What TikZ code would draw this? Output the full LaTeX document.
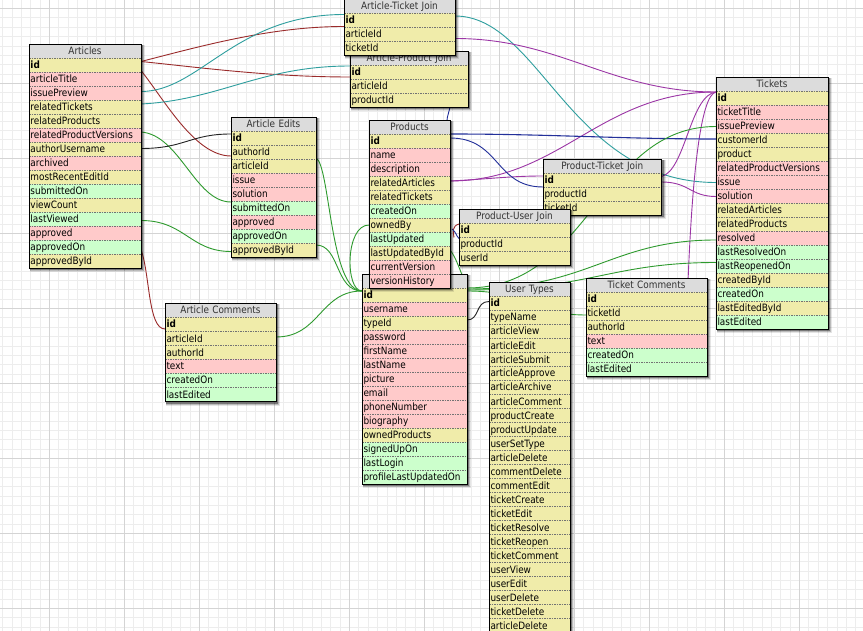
\documentclass[tikz,border=0pt]{standalone}
\usepackage{fontspec}
\setmainfont{DejaVu Sans}[FakeStretch=0.88]
\usetikzlibrary{calc}

\definecolor{ery}{HTML}{F0ECAA}
\definecolor{erp}{HTML}{FFCACA}
\definecolor{erg}{HTML}{CCFFCC}
\definecolor{ertitlebg}{HTML}{DCDCDC}
\definecolor{gridminor}{HTML}{EDEDED}
\definecolor{gridmajor}{HTML}{D4D4D4}
\definecolor{wred}{HTML}{9A2B2B}
\definecolor{wteal}{HTML}{2E9E9E}
\definecolor{wpurple}{HTML}{9B35A5}
\definecolor{wgreen}{HTML}{2E9A2E}
\definecolor{wblue}{HTML}{23309A}
\definecolor{wblack}{HTML}{222222}

\pgfdeclarelayer{gridlayer}
\pgfdeclarelayer{wires}
\pgfsetlayers{gridlayer,wires,main}

\hyphenpenalty=10000
\newcommand\erfont{\fontsize{10.1}{12}\selectfont}

% \ertable{prefix}{x}{top}{width}{number of fields}{title}{field/colour list}
\newcommand\ertable[7]{%
  \pgfmathsetmacro\erbot{#3+14*(#5+1)}%
  \pgfmathsetmacro\ertw{#4-3}%
  \fill[black,opacity=.10] (#2+1,#3+1) rectangle (#2+#4+4,\erbot+4);
  \fill[black,opacity=.18] (#2+1,#3+1) rectangle (#2+#4+3,\erbot+3);
  \fill[black,opacity=.35] (#2+1,#3+1) rectangle (#2+#4+2,\erbot+2);
  \node[ertitle, text width=\ertw pt] (#1-title) at (#2,#3) {#6};
  \foreach \fname/\fcol [count=\i] in {#7}{%
    \node[errow, fill=\fcol, text width=\ertw pt] (#1-\i) at (#2,{#3+14*\i}) {\fname};
    \draw[ersep] (#2,{#3+14*\i}) -- ++(#4,0);
  }%
  \draw[erframe] (#2,#3) rectangle (#2+#4,\erbot);
}

\begin{document}
\begin{tikzpicture}[x=1pt,y=-1pt,
  errow/.style={rectangle, anchor=north west, minimum height=14pt,
    inner xsep=1.5pt, inner ysep=0pt, outer sep=0pt,
    text height=9pt, text depth=2pt, align=left, font=\erfont, text=black},
  ertitle/.style={errow, fill=ertitlebg, align=center, text=black!80},
  ersep/.style={black!55, line width=0.6pt, dash pattern=on 1.5pt off 1pt},
  erframe/.style={black, line width=0.9pt},
  wire/.style={line width=0.9pt},
  gminor/.style={gridminor, line width=0.5pt},
  gmajor/.style={gridmajor, line width=0.6pt}]
\useasboundingbox (0,0) rectangle (863,631);
\clip (0,0) rectangle (863,631);

% background grid
\begin{pgfonlayer}{gridlayer}
  \fill[white] (0,0) rectangle (863,631);
  \foreach \k in {-6,...,87}
    \draw[gminor] ({49.3+9.375*\k},0) -- ({49.3+9.375*\k},631);
  \foreach \k in {-1,...,67}
    \draw[gminor] (0,{8.3+9.375*\k}) -- (863,{8.3+9.375*\k});
  \foreach \k in {-1,...,11}
    \draw[gmajor] ({49.3+75*\k},0) -- ({49.3+75*\k},631);
  \foreach \k in {-1,...,8}
    \draw[gmajor] (0,{8.3+75*\k}) -- (863,{8.3+75*\k});
\end{pgfonlayer}

% tables
\ertable{art}{29}{44.5}{112}{15}{Articles}{{\textbf{id}}/ery, articleTitle/erp, issuePreview/erp, relatedTickets/ery, relatedProducts/ery, relatedProductVersions/erp, authorUsername/ery, archived/erp, mostRecentEditId/ery, submittedOn/erg, viewCount/ery, lastViewed/erg, approved/erp, approvedOn/erg, approvedById/ery}

\ertable{ate}{231}{117}{85}{9}{Article Edits}{{\textbf{id}}/ery, authorId/ery, articleId/ery, issue/erp, solution/erp, submittedOn/erg, approved/erp, approvedOn/erg, approvedById/ery}

\ertable{apj}{350}{51}{118}{3}{Article-Product Join}{{\textbf{id}}/ery, articleId/ery, productId/ery}

\ertable{atj}{344}{-0.5}{111}{3}{Article-Ticket Join}{{\textbf{id}}/ery, articleId/ery, ticketId/ery}

% the users table: its title bar lies under the products table
\ertable{usr}{362}{274}{105}{14}{}{{\textbf{id}}/ery, username/erp, typeId/ery, password/erp, firstName/erp, lastName/erp, picture/erp, email/erp, phoneNumber/erp, biography/erp, ownedProducts/ery, signedUpOn/erg, lastLogin/erg, profileLastUpdatedOn/erg}

\ertable{prd}{369}{120}{81}{11}{Products}{{\textbf{id}}/ery, name/erp, description/erp, relatedArticles/ery, relatedTickets/ery, createdOn/erg, ownedBy/ery, lastUpdated/erg, lastUpdatedById/ery, currentVersion/erp, versionHistory/erp}

\ertable{ptj}{543}{159.5}{118.5}{3}{Product-Ticket Join}{{\textbf{id}}/ery, productId/ery, ticketId/ery}

\ertable{puj}{459}{209.5}{111}{3}{Product-User Join}{{\textbf{id}}/ery, productId/ery, userId/ery}

\ertable{tck}{716}{77.5}{112}{17}{Tickets}{{\textbf{id}}/ery, ticketTitle/erp, issuePreview/erp, customerId/ery, product/ery, relatedProductVersions/erp, issue/erp, solution/erp, relatedArticles/ery, relatedProducts/ery, resolved/erp, lastResolvedOn/erg, lastReopenedOn/erg, createdById/ery, createdOn/erg, lastEditedById/ery, lastEdited/erg}

\ertable{acm}{165}{303.5}{111}{6}{Article Comments}{{\textbf{id}}/ery, articleId/ery, authorId/ery, text/erp, createdOn/erg, lastEdited/erg}

\ertable{utp}{489}{282.5}{81}{24}{User Types}{{\textbf{id}}/ery, typeName/ery, articleView/ery, articleEdit/ery, articleSubmit/ery, articleApprove/ery, articleArchive/ery, articleComment/ery, productCreate/ery, productUpdate/ery, userSetType/ery, articleDelete/ery, commentDelete/ery, commentEdit/ery, ticketCreate/ery, ticketEdit/ery, ticketResolve/ery, ticketReopen/ery, ticketComment/ery, userView/ery, userEdit/ery, userDelete/ery, ticketDelete/ery, articleDelete/ery}

\ertable{tcm}{586}{278}{121}{6}{Ticket Comments}{{\textbf{id}}/ery, ticketId/ery, authorId/ery, text/erp, createdOn/erg, lastEdited/erg}

% relations
\begin{pgfonlayer}{wires}
  % articles
  \draw[wire,wred] ($(art-1.east)+(0,-4)$) .. controls +(59,-15) and +(-74,0) .. ($(atj-2.west)+(0,-8)$);
  \draw[wire,wred] ($(art-1.east)+(0,-4)$) .. controls +(59,6) and +(-80,0) .. ($(apj-1.west)+(0,5)$);
  \draw[wire,wred] ($(art-1.east)+(0,5)$) .. controls +(24,30) and +(-36,0) .. ($(ate-2.west)+(0,4)$);
  \draw[wire,wred] ($(art-14.east)+(0,2)$) .. controls +(9,25) and +(-17,0) .. ($(acm-1.west)+(0,4.5)$);
  \draw[wire,wteal] ($(art-3.east)+(0,-2)$) .. controls +(59,0) and +(-109,0) .. ($(atj-1.west)+(0,-6)$);
  \draw[wire,wteal] ($(art-4.east)+(0,-3.5)$) .. controls +(79,-4) and +(-90,0) .. ($(apj-1.west)+(0,-6)$);
  \draw[wire,wgreen] ($(art-6.east)+(0,-3.5)$) .. controls +(39,3) and +(-36,0) .. ($(ate-6.west)+(0,-6)$);
  \draw[wire,wgreen] ($(art-12.east)+(0,1)$) .. controls +(44,0) and +(-41,0) .. ($(ate-9.west)+(0,1.5)$);
  \draw[wire,wblack] ($(art-7.east)+(0,-1)$) .. controls +(44,0) and +(-41,0) .. ($(ate-1.west)+(0,-4)$);
  % tickets
  \draw[wire,wteal] ($(atj-1.east)+(0,-4.5)$) .. controls +(85,0) and +(-146,0) .. (tck-7.west);
  \draw[wire,wpurple] ($(atj-3.east)+(0,-10)$) .. controls +(105,0) and +(-106,0) .. ($(tck-1.west)+(0,-6.5)$);
  \draw[wire,wpurple] ($(prd-4.east)+(0,-2)$) .. controls +(110,0) and +(-116,0) .. ($(tck-1.west)+(0,-6.5)$);
  \draw[wire,wpurple] ($(prd-4.east)+(0,-2)$) .. controls +(40,-2) and +(-33,0) .. ($(ptj-1.west)+(0,-4.5)$);
  \draw[wire,wpurple] ($(ptj-1.east)+(0,-4)$) .. controls +(24,-6) and +(-26,3) .. ($(tck-1.west)+(0,-6.5)$);
  \draw[wire,wpurple] ($(ptj-1.east)+(0,1.5)$) .. controls +(28,0) and +(-26,0) .. (tck-8.west);
  \draw[wire,wpurple] ($(tcm-title.north east)+(-19,4)$) .. controls +(4,-100) and +(-16,3) .. ($(tck-1.west)+(0,-6.5)$);
  % products
  \draw[wire,wblue,line width=1.1pt] ($(prd-1.east)+(0,-7)$) .. controls +(100,0) and +(-96,0) .. ($(tck-4.west)+(0,-1.5)$);
  \draw[wire,wblue] ($(prd-1.east)+(0,-3)$) .. controls +(50,0) and +(-48,0) .. ($(ptj-2.west)+(0,-7.5)$);
  \draw[wire,wblue] ($(apj-3.south east)+(-18,-3)$) .. controls +(0,8) and +(0,-8) .. ($(prd-title.north east)+(-3,2)$);
  \draw[wire,wred] ($(puj-1.west)+(0,-6.5)$) .. controls +(-7,2) and +(-1,-6) .. ($(puj-1.west)+(-5,7)$);
  \draw[wire,wblue] ($(prd-7.east)+(2,4)$) .. controls +(4,3) and +(-3,-3) .. ($(puj-2.west)+(0,-6)$);
  % users
  \draw[wire,wgreen] ($(ate-2.east)+(0,6)$) .. controls +(14,7) and +(-32,0) .. ($(usr-1.west)+(0,-4)$);
  \draw[wire,wgreen] ($(ate-8.east)+(0,9)$) .. controls +(24,0) and +(-27,0) .. ($(usr-1.west)+(0,-4)$);
  \draw[wire,wgreen] ($(acm-2.east)+(0,-1.5)$) .. controls +(44,0) and +(-42,0) .. ($(usr-1.west)+(0,-4)$);
  \draw[wire,wgreen] (prd-7.west) .. controls +(-24,0) and +(-17,0) .. ($(usr-1.west)+(0,-4)$);
  \draw[wire,wgreen] ($(prd-9.east)+(0,-3)$) .. controls +(5,5) and +(-5,-13) .. ($(usr-1.east)+(0,-7)$);
  \draw[wire,wgreen] ($(usr-1.east)+(0,-7)$) .. controls +(123,0) and +(-116,0) .. (tck-3.west);
  \draw[wire,wgreen] ($(usr-1.east)+(0,-6)$) .. controls +(123,0) and +(-106,0) .. ($(tck-11.west)+(0,1.5)$);
  \draw[wire,wgreen] ($(usr-1.east)+(0,-5)$) .. controls +(123,0) and +(-106,0) .. ($(tck-13.west)+(0,-4)$);
  \draw[wire,wgreen] ($(usr-1.east)+(0,-4)$) .. controls +(63,0) and +(-56,0) .. ($(tcm-2.west)+(0,2)$);
  \draw[wire,wblack] ($(usr-3.east)+(0,-3)$) .. controls +(13,0) and +(-14,0) .. ($(utp-1.west)+(0,-2)$);
\end{pgfonlayer}
\end{tikzpicture}
\end{document}
